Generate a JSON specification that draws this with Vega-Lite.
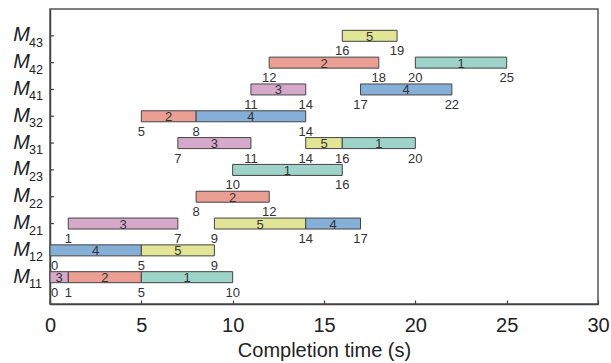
{
  "$schema": "https://vega.github.io/schema/vega-lite/v6.json",
  "width": 548,
  "height": 295,
  "autosize": {"type": "none"},
  "padding": {"left": 50, "top": 9, "right": 13, "bottom": 59},
  "config": {
    "font": "Liberation Sans",
    "view": {"stroke": "#555", "strokeWidth": 1.5},
    "axis": {"grid": false, "domainColor": "#444", "domainWidth": 1.5, "tickColor": "#444", "tickWidth": 1.2, "labelColor": "#222", "titleColor": "#222", "labelFlush": false}
  },
  "datasets": {
    "ops": [
      {"machine": "M11", "job": 3, "start": 0, "end": 1},
      {"machine": "M11", "job": 2, "start": 1, "end": 5},
      {"machine": "M11", "job": 1, "start": 5, "end": 10},
      {"machine": "M12", "job": 4, "start": 0, "end": 5},
      {"machine": "M12", "job": 5, "start": 5, "end": 9},
      {"machine": "M21", "job": 3, "start": 1, "end": 7},
      {"machine": "M21", "job": 5, "start": 9, "end": 14},
      {"machine": "M21", "job": 4, "start": 14, "end": 17},
      {"machine": "M22", "job": 2, "start": 8, "end": 12},
      {"machine": "M23", "job": 1, "start": 10, "end": 16},
      {"machine": "M31", "job": 3, "start": 7, "end": 11},
      {"machine": "M31", "job": 5, "start": 14, "end": 16},
      {"machine": "M31", "job": 1, "start": 16, "end": 20},
      {"machine": "M32", "job": 2, "start": 5, "end": 8},
      {"machine": "M32", "job": 4, "start": 8, "end": 14},
      {"machine": "M41", "job": 3, "start": 11, "end": 14},
      {"machine": "M41", "job": 4, "start": 17, "end": 22},
      {"machine": "M42", "job": 2, "start": 12, "end": 18},
      {"machine": "M42", "job": 1, "start": 20, "end": 25},
      {"machine": "M43", "job": 5, "start": 16, "end": 19}
    ],
    "machines": [
      {"machine": "M43", "sub": "43"},
      {"machine": "M42", "sub": "42"},
      {"machine": "M41", "sub": "41"},
      {"machine": "M32", "sub": "32"},
      {"machine": "M31", "sub": "31"},
      {"machine": "M23", "sub": "23"},
      {"machine": "M22", "sub": "22"},
      {"machine": "M21", "sub": "21"},
      {"machine": "M12", "sub": "12"},
      {"machine": "M11", "sub": "11"}
    ]
  },
  "data": {"name": "ops"},
  "encoding": {
    "y": {
      "field": "machine",
      "type": "nominal",
      "scale": {
        "domain": ["M43", "M42", "M41", "M32", "M31", "M23", "M22", "M21", "M12", "M11"],
        "paddingInner": 0.59,
        "paddingOuter": 0.795,
        "round": false
      },
      "axis": {"title": null, "labels": false, "ticks": false, "domain": true}
    }
  },
  "layer": [
    {
      "data": {"name": "machines"},
      "mark": {"type": "rule", "color": "#444", "strokeWidth": 1.2},
      "encoding": {
        "x": {"datum": 0, "type": "quantitative"},
        "x2": {"datum": 0.22}
      }
    },
    {
      "mark": {"type": "bar", "stroke": "#444", "strokeWidth": 1},
      "encoding": {
        "x": {
          "field": "start",
          "type": "quantitative",
          "scale": {"domain": [0, 30], "nice": false},
          "axis": {
            "title": "Completion time (s)",
            "values": [0, 5, 10, 15, 20, 25, 30],
            "ticks": true,
            "tickSize": -4,
            "labelFontSize": 20,
            "labelPadding": 15,
            "titleFontSize": 20,
            "titleFontWeight": "normal",
            "titlePadding": 5
          }
        },
        "x2": {"field": "end"},
        "color": {
          "field": "job",
          "type": "nominal",
          "scale": {"domain": [1, 2, 3, 4, 5], "range": ["#9dd3c9", "#eb9f94", "#d6a9ca", "#86afd8", "#e2e596"]},
          "legend": null
        }
      }
    },
    {
      "transform": [{"fold": ["start", "end"], "as": ["k", "v"]}],
      "mark": {"type": "text", "fontSize": 13, "color": "#333", "baseline": "middle", "dy": 1},
      "encoding": {
        "x": {"aggregate": "mean", "field": "v", "type": "quantitative"},
        "text": {"field": "job", "type": "nominal"},
        "detail": {"field": "start", "type": "quantitative"}
      }
    },
    {
      "transform": [
        {"fold": ["start", "end"], "as": ["k", "v"]},
        {"aggregate": [{"op": "count", "as": "n"}], "groupby": ["machine", "v"]},
        {"filter": "datum.v > 0"}
      ],
      "mark": {"type": "text", "fontSize": 13, "color": "#333", "baseline": "alphabetic", "align": "center", "dy": 19.5},
      "encoding": {
        "x": {"field": "v", "type": "quantitative"},
        "text": {"field": "v", "type": "quantitative"}
      }
    },
    {
      "transform": [
        {"fold": ["start", "end"], "as": ["k", "v"]},
        {"aggregate": [{"op": "count", "as": "n"}], "groupby": ["machine", "v"]},
        {"filter": "datum.v == 0"}
      ],
      "mark": {"type": "text", "fontSize": 13, "color": "#333", "baseline": "alphabetic", "align": "left", "dx": 1, "dy": 19.5},
      "encoding": {
        "x": {"field": "v", "type": "quantitative"},
        "text": {"field": "v", "type": "quantitative"}
      }
    },
    {
      "data": {"name": "machines"},
      "mark": {"type": "text", "text": "M", "fontSize": 20, "fontStyle": "italic", "color": "#222", "align": "right", "baseline": "alphabetic", "dx": -20, "dy": 5.5},
      "encoding": {
        "x": {"datum": 0, "type": "quantitative"}
      }
    },
    {
      "data": {"name": "machines"},
      "mark": {"type": "text", "fontSize": 12.5, "color": "#222", "align": "left", "baseline": "alphabetic", "dx": -21, "dy": 11},
      "encoding": {
        "x": {"datum": 0, "type": "quantitative"},
        "text": {"field": "sub", "type": "nominal"}
      }
    }
  ]
}
